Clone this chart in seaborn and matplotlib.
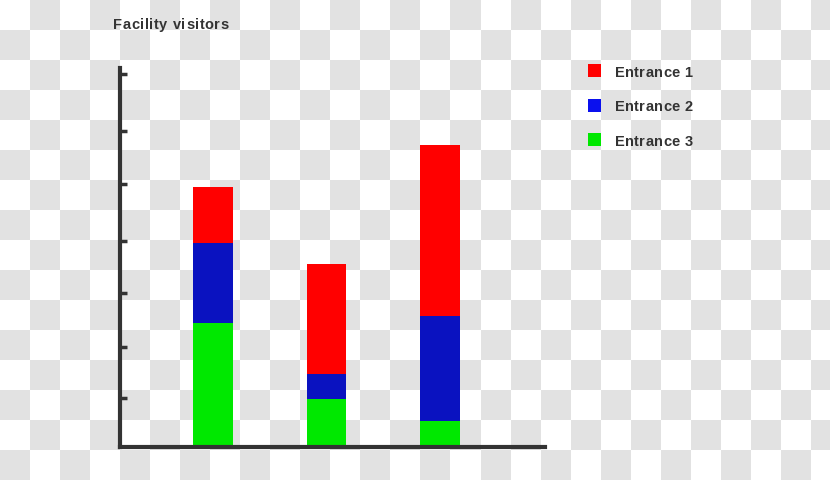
import numpy as np
import pandas as pd
import matplotlib
matplotlib.use("Agg")
import matplotlib.pyplot as plt
import seaborn as sns

# ---- data ----
groups = ["A", "B", "C"]
entrance3 = [12.4, 4.8, 2.6]   # green, bottom
entrance2 = [8.0, 2.5, 10.5]   # blue, middle
entrance1 = [5.6, 11.0, 17.1]  # red, top
series_names = ["Entrance 1", "Entrance 2", "Entrance 3"]
tick_values = [4.9, 10.0, 15.4, 20.6, 26.3, 31.6, 37.3]
title = "Facility visitors"

bar_colors = {"Entrance 1": "#ff0000", "Entrance 2": "#0a12c0", "Entrance 3": "#00e800"}
legend_colors = {"Entrance 1": "#ff0000", "Entrance 2": "#0a10ee", "Entrance 3": "#00e800"}

sns.set_style("white")
plt.rcParams['font.family'] = ['Liberation Sans', 'DejaVu Sans']

W, H = 830, 480
fig = plt.figure(figsize=(W / 100, H / 100), dpi=100)
renderer = fig.canvas.get_renderer()


def tracked_text(x_px, y_base_px, s, size, track_px):
    """Draw text with extra letter spacing; coordinates in pixels from top-left."""
    for i, ch in enumerate(s):
        if i == 0:
            off = 0.0
        else:
            t = fig.text(0, 0, s[:i], fontsize=size, fontweight="bold")
            off = t.get_window_extent(renderer).width
            t.remove()
        fig.text((x_px + off + i * track_px) / W, 1 - y_base_px / H, ch,
                 ha="left", va="baseline", fontsize=size, fontweight="bold",
                 color="#333333")


# checkerboard background
bg = fig.add_axes([0, 0, 1, 1], zorder=-10)
ncol, nrow = 28, 16
ii, jj = np.meshgrid(np.arange(ncol), np.arange(nrow))
board = ((ii + jj) % 2).astype(float)
bg.imshow(board, cmap=matplotlib.colors.ListedColormap(["#ffffff", "#e2e2e2"]),
          extent=[0, ncol * 30, nrow * 30, 0], interpolation="nearest", aspect="auto")
bg.set_xlim(0, W)
bg.set_ylim(H, 0)
bg.axis("off")

# main axes
left, right = 120 / W, 545 / W
bottom, top = (H - 447) / H, (H - 68) / H
ax = fig.add_axes([left, bottom, right - left, top - bottom])
ax.patch.set_alpha(0)

df = pd.DataFrame({"group": groups, "e3": entrance3, "e2": entrance2, "e1": entrance1})
df["s3"] = df["e3"]
df["s2"] = df["e3"] + df["e2"]
df["s1"] = df["e3"] + df["e2"] + df["e1"]

bw = 0.352
for col, name in [("s1", "Entrance 1"), ("s2", "Entrance 2"), ("s3", "Entrance 3")]:
    sns.barplot(data=df, x="group", y=col, color=bar_colors[name], width=bw,
                saturation=1, ax=ax, edgecolor="none", linewidth=0)

ax.set_xlim(-0.819, 2.925)
ax.set_ylim(0, 37.9)
ax.set_xlabel("")
ax.set_ylabel("")
ax.set_xticks([])
ax.set_yticks(tick_values)
ax.set_yticklabels([])
ax.tick_params(axis="y", direction="in", length=5, width=2.5, color="#333333", left=True)
for s in ["top", "right"]:
    ax.spines[s].set_visible(False)
for s in ["left", "bottom"]:
    ax.spines[s].set_color("#333333")
    ax.spines[s].set_linewidth(3)

# title
tracked_text(113, 29.3, title, 10.5, 0.6)

# legend
for k, name in enumerate(series_names):
    base = 76.7 + k * 34.5
    fig.patches.append(matplotlib.patches.Rectangle(
        (588 / W, 1 - (base + 0.3) / H), 13 / W, 13 / H, transform=fig.transFigure,
        facecolor=legend_colors[name], edgecolor="none"))
    tracked_text(615, base, name, 10.5, 0.3)

fig.savefig("out.png", dpi=100)
